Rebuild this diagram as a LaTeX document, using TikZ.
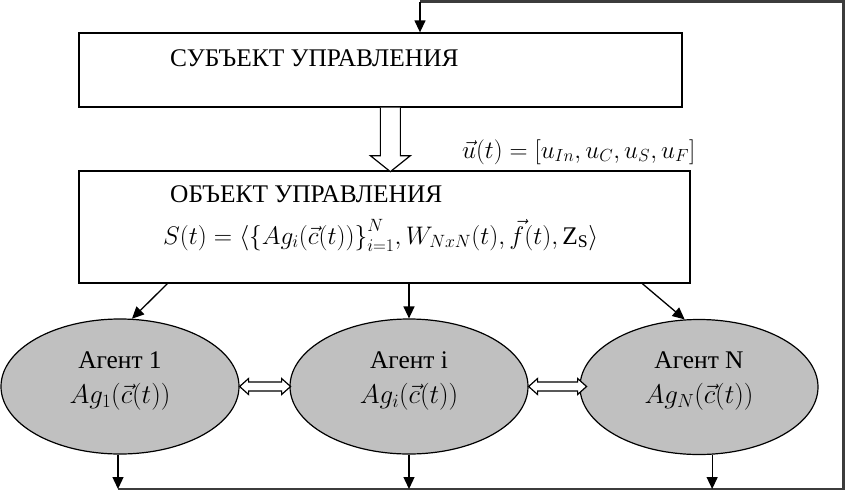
\RequirePackage{fix-cm}
\documentclass[tikz,border=0pt]{standalone}
\usepackage{fontspec}
\setmainfont{Liberation Serif}
\usetikzlibrary{arrows.meta,shapes.geometric,calc}
\definecolor{agfill}{RGB}{192,192,192}
\definecolor{fbline}{RGB}{60,60,60}
\newcommand\hdbl[2]{%
\draw[hollow] (#1) -- ++(9,-8) -- ++(0,3.5) -- ++({#2-18},0) -- ++(0,-3.5) -- ++(9,8) -- ++(-9,8) -- ++(0,-3.5) -- ++({18-#2},0) -- ++(0,3.5) -- cycle;}
\begin{document}
\begin{tikzpicture}[x=1pt,y=-1pt,
  box/.style={draw, line width=1.3pt, minimum width=#1, inner sep=0pt},
  agent/.style={draw, ellipse, line width=1.2pt, fill=agfill, minimum width=238pt, minimum height=135pt, inner sep=0pt},
  arr/.style={line width=1.3pt, -{Triangle[length=12pt,width=11pt]}},
  hollow/.style={draw, line width=1.2pt, fill=white, line join=miter},
  fb/.style={draw=fbline, line width=2.4pt},
  lbl/.style={inner sep=0pt, font=\fontsize{25.4}{29}\selectfont},
  mth/.style={inner sep=0pt, font=\fontsize{25.4}{29}\selectfont}]
\useasboundingbox (0,0) rectangle (846,491);
% boxes
\node[box=603pt, minimum height=74pt] (subj) at (380.5,70) {};
\node[box=611pt, minimum height=112pt] (obj) at (384.5,227) {};
\node[lbl, anchor=base west] (subjt) at (170,66) {СУБЪЕКТ УПРАВЛЕНИЯ};
\node[lbl, anchor=base west] (objt) at (170,202) {ОБЪЕКТ УПРАВЛЕНИЯ};
\node[mth, anchor=base west] (objf) at (163,244) {$S(t) = \langle \bigl\{Ag_i\bigl(\vec{c}(t)\bigr)\bigr\}_{i=1}^{N}, W_{NxN}(t), \vec{f}(t), \mathrm{Z_S}\rangle$};
\node[mth, anchor=base west, font=\fontsize{25}{29}\selectfont] (ut) at (462,158) {$\vec{u}(t) = [u_{In}, u_C, u_S, u_F]$};
% agents
\node[agent] (e1) at (120,386.5) {};
\node[agent] (e2) at (409,386.5) {};
\node[agent] (e3) at (699,387) {};
\node[lbl, anchor=base] (t1) at (120,368) {Агент 1};
\node[lbl, anchor=base] (t2) at (409,368) {Агент i};
\node[lbl, anchor=base] (t3) at (699,368) {Агент N};
\node[mth, anchor=base, font=\fontsize{27}{31}\selectfont] (f1) at (120,403) {$Ag_1\bigl(\vec{c}(t)\bigr)$};
\node[mth, anchor=base, font=\fontsize{27}{31}\selectfont] (f2) at (409,403) {$Ag_i\bigl(\vec{c}(t)\bigr)$};
\node[mth, anchor=base, font=\fontsize{27}{31}\selectfont] (f3) at (699,403) {$Ag_N\bigl(\vec{c}(t)\bigr)$};
% hollow arrow subj -> obj
\path (subj.south west) ++(302,0) coordinate (ha);
\draw[hollow] (ha) -- ++(0,48) -- ++(-10,0) -- ++(20,16) -- ++(20,-16) -- ++(-10,0) -- ++(0,-48);
% obj -> agents
\path (obj.south west) ++(89,0) coordinate (o1);
\path (obj.south west) ++(564,0) coordinate (o3);
\draw[arr] (o1) -- (e1.80);
\draw[arr] (obj.south -| e2.north) -- (e2.north);
\draw[arr] (o3) -- (e3.102);
% double arrows between agents
\hdbl{e1.east}{51}
\hdbl{e2.east}{58}
% feedback
\coordinate (bl) at (118,489);
\coordinate (br) at (843.5,489);
\coordinate (tr) at (843.5,1.5);
\coordinate (tl) at (420,1.5);
\draw[fb, line join=miter] (bl) -- (br) -- (tr) -- (tl);
\draw[arr] (tl) -- (tl |- subj.north);
\draw[arr] (e1.south -| bl) -- (bl);
\draw[arr] (e2.south) -- (e2.south |- bl);
\draw[arr] (e3.281) -- (e3.281 |- bl);
\end{tikzpicture}
\end{document}
